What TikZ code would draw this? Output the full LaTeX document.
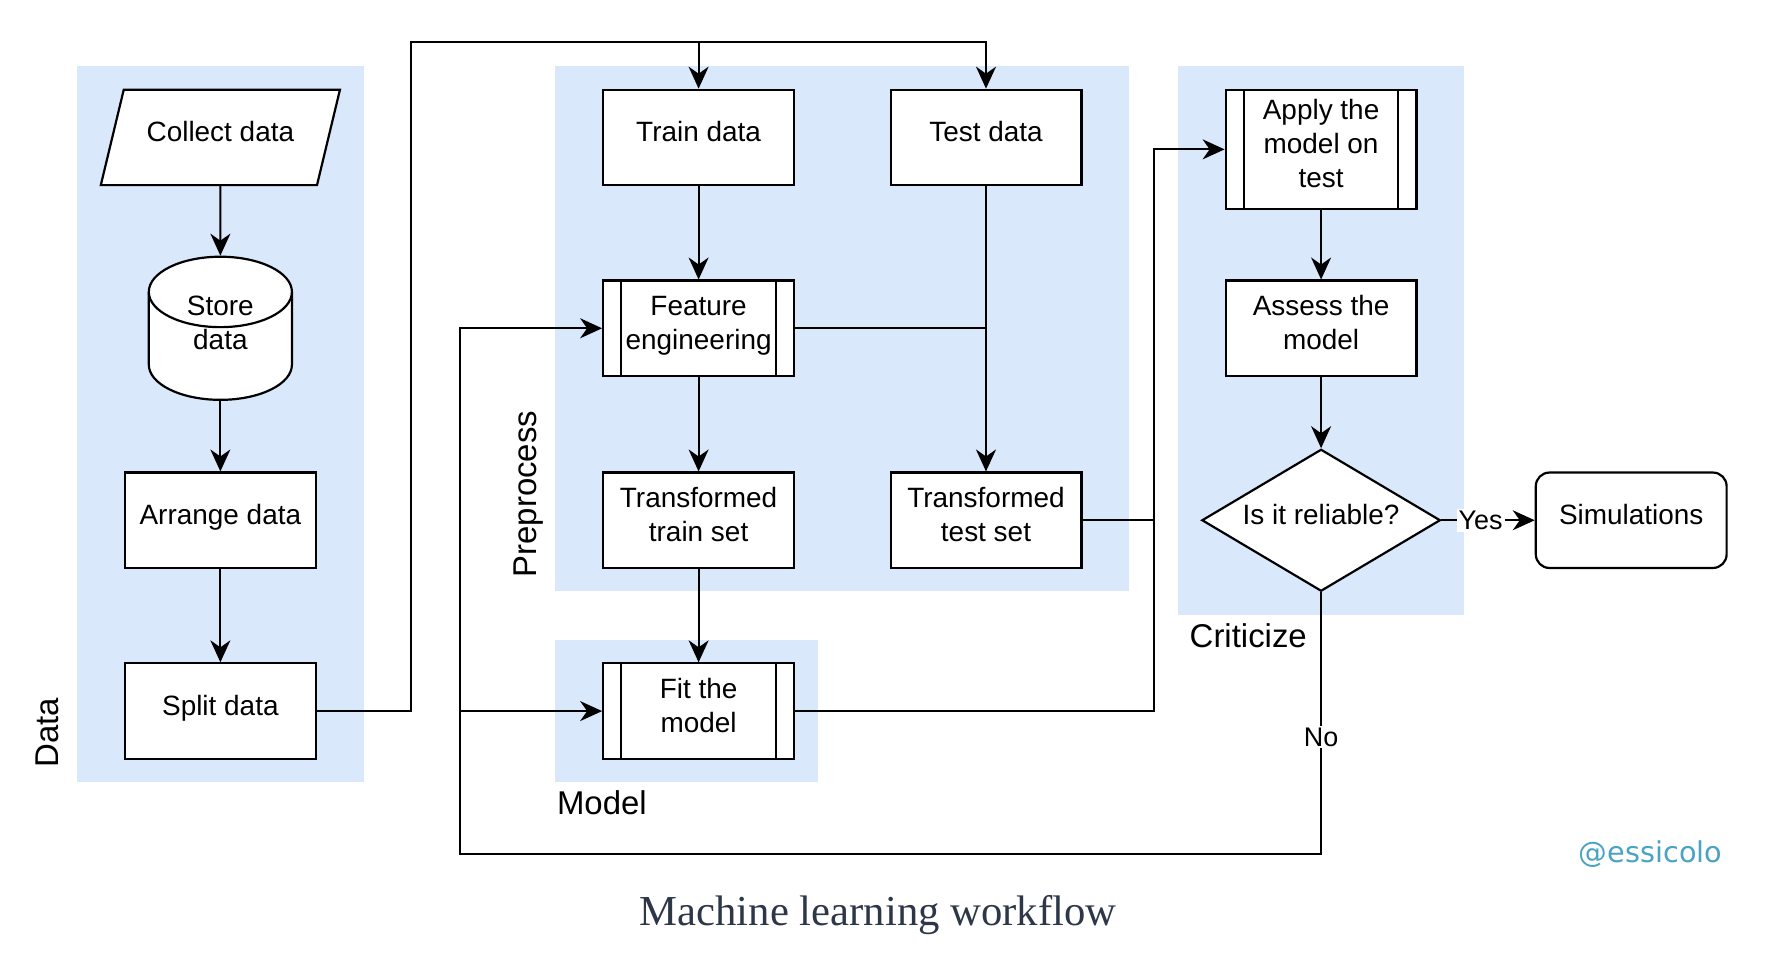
\documentclass[tikz,border=0pt]{standalone}
\usepackage{fontspec}
\setmainfont{Liberation Sans}
\newfontfamily\captionfont{Liberation Serif}
\newfontfamily\handlefont{DejaVu Sans}
\usepackage{xcolor}
\definecolor{bandblue}{HTML}{DAE8FC}
\definecolor{handleblue}{HTML}{4BA3C3}
\definecolor{slate}{HTML}{2D3748}
\usepackage{tikz}
\usetikzlibrary{arrows.meta, positioning, shapes.geometric, calc}

\tikzset{
  line/.style={line width=1.1pt},
  arr/.style={line width=1.1pt, -{Stealth[length=11pt, width=10pt, inset=3.5pt]}},
  box/.style={draw, line width=1.1pt, fill=white, minimum width=3.36cm, minimum height=1.68cm,
    align=center, inner sep=2pt, text depth=0.2cm, font=\fontsize{14}{17}\selectfont},
  process/.style={box, path picture={
      \draw[line width=1.1pt] ([xshift=0.32cm]path picture bounding box.north west) -- ([xshift=0.32cm]path picture bounding box.south west);
      \draw[line width=1.1pt] ([xshift=-0.32cm]path picture bounding box.north east) -- ([xshift=-0.32cm]path picture bounding box.south east);}},
  group/.style={inner sep=0pt, font=\fontsize{16.5}{20}\selectfont},
  tag/.style={fill=white, inner sep=1pt, font=\fontsize{13.5}{16}\selectfont}
}

\begin{document}
\begin{tikzpicture}[x=0.02cm, y=-0.02cm]
  \useasboundingbox (0,0) rectangle (1567,847);

  % --- Groups ---
  \fill[bandblue] (68,58) rectangle (320,688);
  \fill[bandblue] (489,58) rectangle (994,520);
  \fill[bandblue] (489,563) rectangle (720,688);
  \fill[bandblue] (1037,58) rectangle (1289,541);
  \node[group, rotate=90] (datalbl) at (42,645) {Data};
  \node[group, rotate=90] (prelbl) at (465,435) {Preprocess};
  \node[group, anchor=west] (modellbl) at (490,707) {Model};
  \node[group, anchor=west] (critlbl) at (1047,560) {Criticize};

  % --- Data ---
  \node[box, trapezium, trapezium left angle=65, trapezium right angle=115,
    trapezium stretches=true, minimum width=4.24cm] (collect) at (194,121) {Collect data};
  % cylinder
  \draw[line, fill=white] (131,257) -- (131,321)
    arc[start angle=180, end angle=0, x radius=63, y radius=31] -- (257,257)
    arc[start angle=0, end angle=-180, x radius=63, y radius=31];
  \draw[line] (131,257) arc[start angle=180, end angle=0, x radius=63, y radius=31];
  \node[box, draw=none, fill=none, minimum width=2.54cm, minimum height=2.52cm] (store) at (194,289) {Store\\data};
  \node[box] (arrange) at (194,458) {Arrange data};
  \node[box] (split) at (194,626) {Split data};

  % --- Preprocess ---
  \node[box] (train) at (615,121) {Train data};
  \node[box] (test) at (868,121) {Test data};
  \node[process] (feature) at (615,289) {Feature\\engineering};
  \node[box] (ttrain) at (615,458) {Transformed\\train set};
  \node[box] (ttest) at (868,458) {Transformed\\test set};

  % --- Model ---
  \node[process] (fit) at (615,626) {Fit the\\model};

  % --- Criticize ---
  \node[process, minimum height=2.1cm] (apply) at (1163,131.5) {Apply the\\model on\\test};
  \node[box] (assess) at (1163,289) {Assess the\\model};
  \node[box, diamond, aspect=1.68, inner sep=0pt, minimum width=4.2cm, minimum height=2.5cm] (reliable) at (1163,458) {Is it reliable?};
  \node[box, rounded corners=0.24cm] (sim) at (1436,458) {Simulations};

  % --- Connectors ---
  \coordinate (splitup) at (362,37);
  \coordinate (critin) at (1016,131.5);
  \coordinate (loopback) at (405,752);
  \draw[arr] (collect.south) -- (store.north);
  \draw[arr] (store.south) -- (arrange.north);
  \draw[arr] (arrange.south) -- (split.north);
  \draw[arr] (split.east) -| (splitup) -| (train.north);
  \draw[arr] (splitup) -| (test.north);
  \draw[arr] (train.south) -- (feature.north);
  \draw[arr] (feature.south) -- (ttrain.north);
  \draw[arr] (test.south) -- (ttest.north);
  \draw[line] (feature.east) -- (feature.east -| test.south);
  \draw[arr] (ttrain.south) -- (fit.north);
  \draw[arr] (fit.east) -| (critin) -- (apply.west);
  \draw[line] (ttest.east) -- (ttest.east -| critin);
  \draw[arr] (apply.south) -- (assess.north);
  \draw[arr] (assess.south) -- (reliable.north);
  \draw[arr] (reliable.east) -- node[tag, pos=0.42] {Yes} (sim.west);
  \draw[arr] (reliable.south) |- node[tag, pos=0.276] {No} (loopback) |- (feature.west);
  \draw[arr] (loopback |- fit.west) -- (fit.west);

  % --- Credits ---
  \node[text=handleblue, font=\handlefont\fontsize{14.4}{17}\selectfont] (handle) at (1453,752) {@essicolo};
  \node[text=slate, font=\captionfont\fontsize{21.4}{25}\selectfont] (caption) at (773,806) {Machine learning workflow};
\end{tikzpicture}
\end{document}
